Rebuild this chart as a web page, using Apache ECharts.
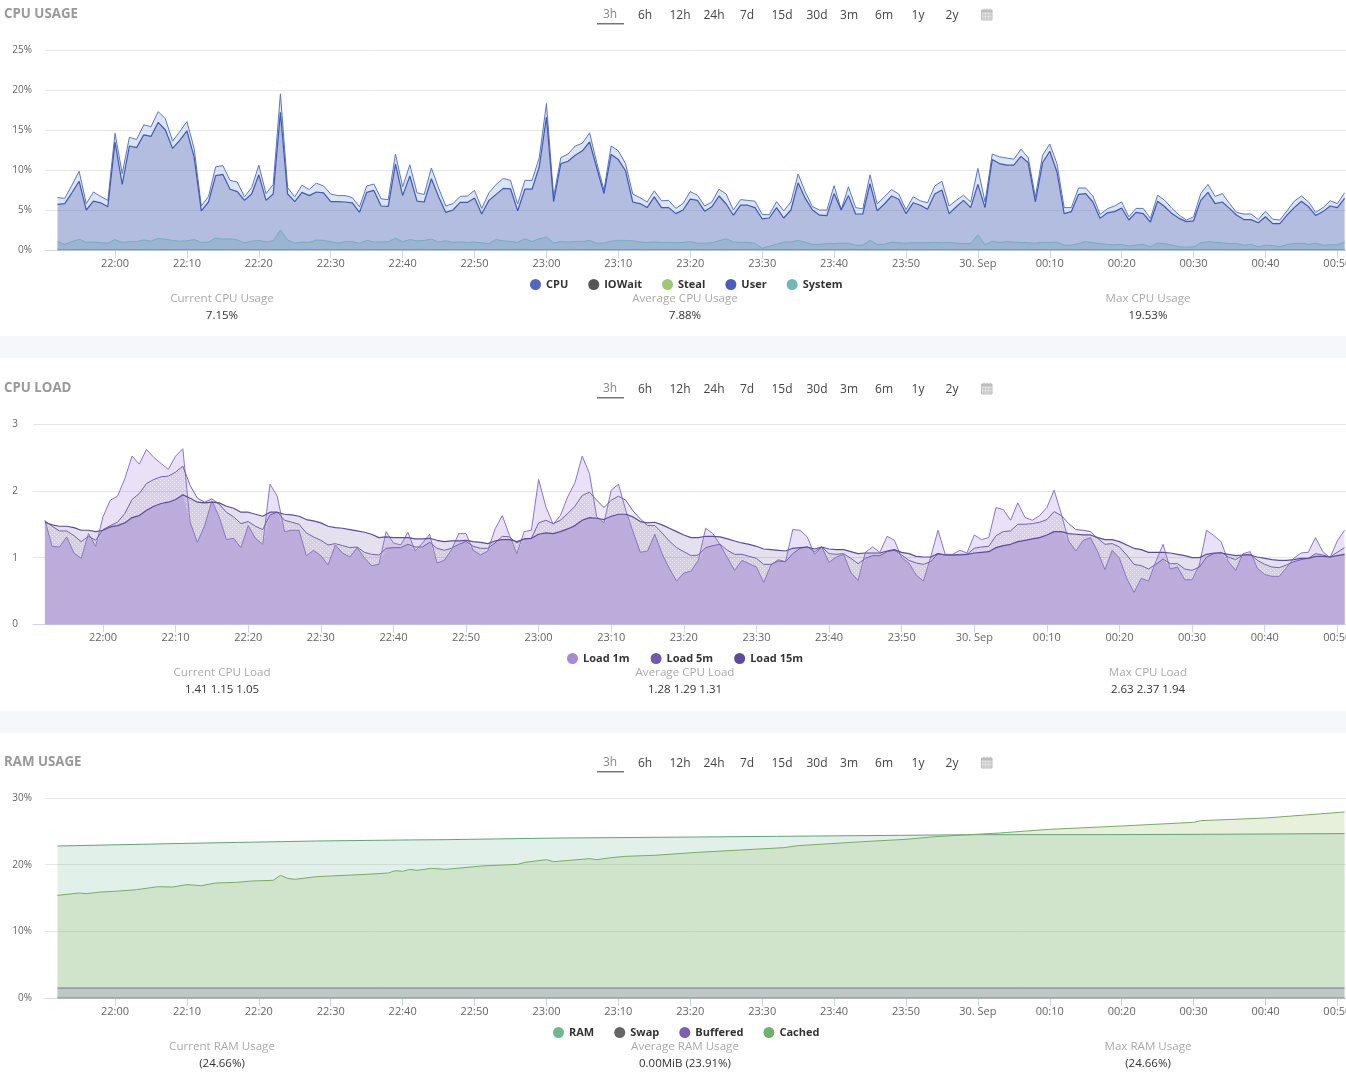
<!DOCTYPE html>
<html>
<head>
<meta charset="utf-8">
<title>Server metrics</title>
<script src="https://cdn.jsdelivr.net/npm/echarts@6/dist/echarts.min.js"></script>
<style>
  html, body { margin: 0; padding: 0; background: #fff; overflow: hidden; }
  #main { width: 1346px; height: 1080px; }
</style>
</head>
<body>
<div id="main"></div>
<script>
// One value per minute, starting at 21:52 on 29 Sep.
const cpuTotal = [
  6.56,6.45,8.1,9.85,5.8,7.25,6.7,6.2,14.6,9.55,
  14.1,13.8,15.65,15.4,17.3,16.4,13.6,14.8,16.05,12.7,
  5.5,6.7,10.4,10.55,8.7,8.5,6.65,7.8,10.6,7.05,
  8.2,19.53,7.8,6.65,8.1,7.55,8.35,8.0,7.0,6.8,
  6.8,6.55,5.4,8.0,8.25,6.4,6.3,12.0,7.9,10.65,
  7.15,6.95,10.25,7.75,5.5,5.8,6.7,6.75,7.45,5.2,
  7.15,8.2,8.95,8.7,5.75,8.7,8.7,11.55,18.3,6.65,
  11.55,12.0,13.0,13.35,14.65,10.9,7.5,13.0,12.4,10.8,
  7.0,6.55,6.0,7.4,6.15,6.2,5.2,5.8,7.3,6.85,
  5.5,6.0,7.6,7.0,5.0,6.3,6.2,6.1,4.45,4.4,
  6.05,4.9,6.0,9.5,7.25,5.4,5.0,5.0,8.05,5.05,
  7.9,5.3,5.15,9.4,5.75,6.65,7.55,7.0,5.05,6.65,
  6.15,5.9,8.0,8.6,5.5,6.2,6.85,6.0,10.2,6.0,
  12.0,11.65,11.5,11.35,12.6,11.55,6.65,11.85,13.25,10.8,
  5.3,5.3,7.75,7.75,6.75,4.45,5.15,5.5,6.0,4.15,
  5.2,5.2,3.95,6.85,6.2,5.2,4.35,3.75,4.15,7.05,
  8.2,6.7,7.05,5.8,4.7,4.5,4.5,3.8,4.85,3.85,
  3.75,4.9,6.1,6.75,6.0,4.7,5.3,6.15,5.8,7.15
];
const cpuUser = [
  5.7,5.8,7.15,8.6,5.0,6.1,5.9,5.4,13.5,8.2,
  13.0,12.8,14.4,14.2,15.95,15.0,12.7,13.7,14.9,11.6,
  4.9,6.0,9.3,9.45,7.6,7.3,6.2,7.0,9.4,6.2,
  7.0,17.2,7.0,6.05,7.2,6.8,7.25,7.15,6.05,6.05,
  6.0,5.9,4.7,7.2,7.45,5.5,5.45,10.75,6.8,9.25,
  6.1,6.0,8.9,6.65,4.7,5.0,5.95,5.95,6.5,4.5,
  6.2,6.95,7.7,7.65,4.9,7.6,7.6,10.4,16.6,6.05,
  10.8,11.1,11.85,12.4,13.5,10.25,7.05,11.95,11.3,9.9,
  6.0,5.8,5.3,6.65,5.3,5.3,4.55,5.0,6.35,6.2,
  4.85,5.4,6.75,5.75,4.35,5.6,5.6,5.3,3.9,4.0,
  5.3,4.0,5.0,8.4,6.45,5.0,4.35,4.3,7.05,5.0,
  6.8,4.5,4.5,8.3,4.9,5.75,6.75,6.35,4.55,5.9,
  5.6,5.1,7.0,7.5,4.55,5.4,6.2,5.3,8.2,5.3,
  11.3,10.8,10.6,10.6,11.7,10.9,6.0,10.9,12.35,9.75,
  4.55,4.8,6.95,7.05,6.0,3.95,4.65,4.8,5.25,3.75,
  4.7,4.55,3.5,6.1,5.4,4.55,3.95,3.55,3.65,6.2,
  7.2,5.8,6.0,5.2,4.35,3.8,3.8,3.4,4.15,3.3,
  3.3,4.35,5.3,6.1,5.4,4.3,4.8,5.5,5.3,6.45
];
const cpuSystem = [
  1.05,.7,1.05,1.35,.95,1.0,.9,.85,1.3,.95,
  1.05,1.05,1.25,1.1,1.45,1.35,1.2,1.1,1.15,1.3,
  .95,1.0,1.5,1.35,1.4,1.25,.9,1.1,1.2,1.0,
  1.15,2.5,1.25,.85,1.0,.95,1.25,1.2,1.05,.85,
  1.05,1.05,.85,1.2,1.0,1.0,1.05,1.45,1.05,1.3,
  1.15,1.2,1.35,1.0,1.15,.95,1.0,.95,1.0,.9,
  .8,1.3,1.15,1.05,.95,1.4,1.05,1.4,1.6,.9,
  1.05,1.0,1.05,1.05,1.2,.85,.85,1.1,1.2,1.2,
  1.15,1.0,.95,1.0,.95,.95,.9,.95,1.05,.85,
  .85,.9,1.15,1.4,1.0,.95,.95,.85,.2,.5,
  .7,1.0,1.0,1.2,1.0,.7,.7,.8,.8,.85,
  .85,.6,.6,1.2,.7,.7,1.0,.9,.85,.9,
  .9,.9,.95,.9,.95,.85,.8,.8,1.9,.65,
  1.1,.95,1.05,1.0,.95,.9,.85,.95,.95,1.0,
  .6,.6,.8,1.05,.9,.8,.7,.65,.7,.5,
  .6,.7,.4,.85,.8,.6,.4,.35,.4,.9,
  1.05,.95,.9,.8,.8,.6,.7,.4,.6,.55,
  .4,.7,.8,.85,.7,.85,.6,.65,.65,.95
];
const load1m = [
  1.56,1.17,1.16,1.31,1.07,.99,1.36,1.17,1.61,1.86,
  1.92,2.18,2.52,2.40,2.62,2.50,2.41,2.32,2.52,2.63,
  1.53,1.23,1.48,1.85,1.61,1.27,1.29,1.15,1.48,1.29,
  1.20,2.10,1.92,1.39,1.41,1.41,1.03,1.11,1.03,.89,
  1.19,1.07,1.01,1.15,1.0,.88,.90,1.39,1.22,1.19,
  1.38,1.10,1.22,1.35,.92,.96,1.12,1.36,1.36,1.11,
  1.04,1.10,1.43,1.63,1.33,1.06,1.39,1.41,2.17,1.76,
  1.50,1.63,1.91,2.12,2.52,2.26,1.61,1.52,2.01,2.10,
  1.71,1.39,1.08,1.10,1.35,1.06,.84,.65,.77,.80,
  .96,1.44,1.36,1.19,1.00,.81,.96,.91,.86,.63,
  .89,.97,.94,1.42,1.41,1.31,1.05,1.16,.93,1.01,
  1.05,.78,.66,1.08,1.16,1.08,1.32,1.26,1.0,.92,
  .74,.65,1.01,1.41,1.05,1.05,1.11,1.07,1.34,1.27,
  1.30,1.75,1.72,1.56,1.82,1.60,1.56,1.63,1.75,2.01,
  1.65,1.25,1.10,1.26,1.30,1.09,.82,1.11,.99,.69,
  .48,.69,.65,.94,1.20,.83,.86,.67,.67,.89,
  1.41,1.33,1.24,.94,.81,1.06,1.09,.84,.75,.72,
  .72,.85,.99,1.07,1.08,1.30,1.09,1.00,1.25,1.41
];
const load5m = [
  1.55,1.47,1.40,1.40,1.33,1.24,1.32,1.26,1.42,1.48,
  1.53,1.66,1.87,1.96,2.11,2.17,2.21,2.22,2.28,2.37,
  2.08,1.89,1.83,1.88,1.80,1.68,1.61,1.51,1.54,1.47,
  1.42,1.64,1.68,1.56,1.53,1.50,1.37,1.31,1.26,1.19,
  1.21,1.18,1.15,1.16,1.08,1.05,1.04,1.14,1.15,1.15,
  1.20,1.16,1.16,1.23,1.14,1.11,1.14,1.20,1.24,1.17,
  1.14,1.14,1.22,1.32,1.31,1.22,1.28,1.29,1.52,1.56,
  1.51,1.56,1.66,1.77,1.93,1.98,1.86,1.75,1.86,1.92,
  1.86,1.70,1.58,1.48,1.48,1.37,1.25,1.15,1.09,1.03,
  1.04,1.15,1.18,1.20,1.11,1.05,1.05,1.02,.99,.90,
  .90,.95,.94,1.06,1.14,1.16,1.09,1.16,1.06,1.05,
  1.06,.99,.91,.99,1.03,1.03,1.09,1.11,1.04,.96,
  .92,.90,.94,1.06,1.04,1.04,1.05,1.05,1.14,1.16,
  1.17,1.33,1.39,1.40,1.50,1.50,1.51,1.53,1.57,1.69,
  1.63,1.51,1.42,1.41,1.39,1.29,1.20,1.21,1.16,1.04,
  .90,.88,.83,.90,.98,.91,.91,.83,.81,.86,
  1.01,1.06,1.08,1.01,.97,1.04,1.05,.96,.90,.86,
  .85,.89,.94,.97,.99,1.06,1.04,1.01,1.08,1.15
];
const load15m = [
  1.53,1.49,1.47,1.47,1.45,1.41,1.41,1.39,1.41,1.46,
  1.48,1.52,1.60,1.63,1.71,1.77,1.81,1.83,1.87,1.94,
  1.89,1.83,1.82,1.83,1.82,1.77,1.74,1.68,1.68,1.65,
  1.62,1.68,1.68,1.65,1.64,1.62,1.57,1.55,1.52,1.47,
  1.45,1.44,1.42,1.40,1.38,1.35,1.30,1.31,1.30,1.30,
  1.30,1.28,1.28,1.29,1.26,1.24,1.25,1.25,1.26,1.24,
  1.23,1.21,1.25,1.27,1.27,1.24,1.28,1.29,1.35,1.37,
  1.36,1.39,1.43,1.48,1.56,1.60,1.59,1.57,1.62,1.65,
  1.65,1.61,1.54,1.52,1.53,1.49,1.44,1.39,1.34,1.30,
  1.30,1.32,1.32,1.31,1.28,1.25,1.22,1.20,1.17,1.13,
  1.12,1.11,1.10,1.14,1.15,1.16,1.13,1.16,1.13,1.12,
  1.12,1.09,1.06,1.07,1.07,1.07,1.10,1.12,1.08,1.06,
  1.02,1.01,1.01,1.06,1.04,1.04,1.04,1.05,1.07,1.08,
  1.09,1.15,1.18,1.20,1.24,1.26,1.28,1.30,1.34,1.39,
  1.39,1.36,1.35,1.34,1.34,1.30,1.27,1.27,1.24,1.19,
  1.14,1.12,1.08,1.08,1.08,1.07,1.05,1.03,1.00,1.00,
  1.05,1.07,1.07,1.05,1.03,1.04,1.04,1.01,.99,.97,
  .96,.96,.97,.99,.99,1.02,1.02,1.01,1.03,1.05
];

// Slow-moving series are kept as minute offset + value pairs.
const ramMinutes = [0, 18, 36, 48, 54, 70, 89, 100, 117, 128, 145, 159, 179];
const ramValues = [22.8, 23.2, 23.55, 23.7, 23.75, 24.0, 24.15, 24.25, 24.4, 24.5, 24.5, 24.55, 24.66];
const cachedMinutes = [0,3,4,6,8,11,14,16,18,20,22,25,27,30,31,32,33,36,40,43,46,47,48,49,50,52,54,
  59,64,65,68,69,74,75,77,79,83,89,95,101,103,112,118,122,131,138,148,158,159,168,179];
const cachedValues = [15.4,15.75,15.65,15.9,16.0,16.25,16.7,16.65,17.0,16.85,17.25,17.35,17.55,17.65,18.4,17.95,17.8,18.2,18.4,18.55,18.75,19.1,19.0,19.3,19.15,19.45,19.3,
  19.8,20.05,20.35,20.75,20.45,20.9,20.75,21.05,21.25,21.4,21.85,22.2,22.55,22.85,23.45,23.8,24.2,24.75,25.3,25.8,26.35,26.6,27.0,27.9];
const bufferedMinutes = [0, 179];
const bufferedValues = [1.5, 1.5];
const swapMinutes = [0, 179];
const swapValues = [0, 0];
const iowaitMinutes = [0, 179];
const iowaitValues = [0.03, 0.03];
const stealMinutes = [0, 179];
const stealValues = [0, 0];

// Minutes after 22:00 and the text shown at each tick.
const tickOffsets = [0, 10, 20, 30, 40, 50, 60, 70, 80, 90, 100, 110, 120, 130, 140, 150, 160, 170];
const tickLabels = ['22:00', '22:10', '22:20', '22:30', '22:40', '22:50', '23:00', '23:10', '23:20',
  '23:30', '23:40', '23:50', '30. Sep', '00:10', '00:20', '00:30', '00:40', '00:50'];

const rangeTabs = ['3h', '6h', '12h', '24h', '7d', '15d', '30d', '3m', '6m', '1y', '2y'];
const sectionTitles = ['CPU USAGE', 'CPU LOAD', 'RAM USAGE'];
const statLabels = [
  ['Current CPU Usage', 'Average CPU Usage', 'Max CPU Usage'],
  ['Current CPU Load', 'Average CPU Load', 'Max CPU Load'],
  ['Current RAM Usage', 'Average RAM Usage', 'Max RAM Usage']
];
const statValues = [
  ['7.15%', '7.88%', '19.53%'],
  ['1.41 1.15 1.05', '1.28 1.29 1.31', '2.63 2.37 1.94'],
  ['(24.66%)', '0.00MiB (23.91%)', '(24.66%)']
];

const FIRST_SAMPLE = -8; // 21:52 expressed in minutes after 22:00
const FONT = '"Open Sans", "Noto Sans", sans-serif';

const perMinute = values => values.map((v, i) => [FIRST_SAMPLE + i, v]);
const sampled = (minutes, values) => minutes.map((m, i) => [FIRST_SAMPLE + m, values[i]]);

function xAxisFor(gridIndex, min, max) {
  return {
    type: 'value', gridIndex, min, max,
    splitLine: { show: false },
    axisLine: { show: true, onZero: false, lineStyle: { color: '#ccd6eb', width: 1 } },
    axisTick: { show: true, length: 8, customValues: tickOffsets, lineStyle: { color: '#ccd6eb' } },
    axisLabel: {
      customValues: tickOffsets, hideOverlap: false, margin: 8,
      color: '#666', fontSize: 11, fontFamily: FONT,
      formatter: value => tickLabels[tickOffsets.indexOf(value)]
    }
  };
}

function yAxisFor(gridIndex, max, interval, suffix, margin) {
  return {
    type: 'value', gridIndex, min: 0, max, interval,
    axisLine: { show: false }, axisTick: { show: false },
    splitLine: { show: true, lineStyle: { color: '#e6e6e6', width: 1 } },
    axisLabel: { color: '#666', fontSize: 10, fontFamily: FONT, margin, padding: [4, 0, 0, 0], formatter: '{value}' + suffix }
  };
}

function areaSeries(name, gridIndex, data, dot, line, width, fill, z) {
  return {
    name, type: 'line', data, xAxisIndex: gridIndex, yAxisIndex: gridIndex,
    showSymbol: false, symbol: 'none', animation: false, z: z || 2, smooth: false,
    itemStyle: { color: dot },
    lineStyle: { color: line, width },
    areaStyle: fill ? { color: fill, opacity: 1 } : undefined
  };
}

// Fine dotted fill used by the 5-minute load area.
function dottedFill() {
  const c = document.createElement('canvas');
  c.width = 4; c.height = 4;
  const g = c.getContext('2d');
  g.fillStyle = 'rgba(150,125,205,0.18)';
  g.fillRect(0, 0, 4, 4);
  g.fillStyle = 'rgba(255,255,255,0.55)';
  g.fillRect(0, 0, 1, 1);
  g.fillRect(2, 2, 1, 1);
  return { image: c, repeat: 'repeat' };
}

const lowestLoad = load1m.map((v, i) => Math.min(v, load5m[i], load15m[i]));

const series = [
  // CPU usage
  areaSeries('CPU', 0, perMinute(cpuTotal), '#4f68c0', '#5a78c4', 1, 'rgba(123,160,216,0.27)'),
  areaSeries('IOWait', 0, sampled(iowaitMinutes, iowaitValues), '#555555', '#666666', 1, 'rgba(90,90,90,0.25)'),
  areaSeries('Steal', 0, sampled(stealMinutes, stealValues), '#9fc874', '#9fc874', 1, null),
  areaSeries('User', 0, perMinute(cpuUser), '#4a5cbe', '#4258b4', 1.2, 'rgba(83,97,175,0.30)'),
  areaSeries('System', 0, perMinute(cpuSystem), '#71b8b8', '#6fb0bc', 1, 'rgba(106,160,190,0.30)'),
  // CPU load: layered fills, a solid floor under all three, then the outlines on top
  areaSeries('Load 1m', 1, perMinute(load1m), '#a48ad8', '#a48ad8', 0, 'rgba(160,120,225,0.22)', 2),
  areaSeries('Load 15m', 1, perMinute(load15m), '#5d4b98', '#5d4b98', 0, 'rgba(110,90,160,0.19)', 2),
  areaSeries('Load 5m', 1, perMinute(load5m), '#6e5bb0', '#6e5bb0', 0, dottedFill(), 3),
  areaSeries('Lowest load', 1, perMinute(lowestLoad), '#b9a9da', '#b9a9da', 0, 'rgba(186,171,219,0.95)', 4),
  areaSeries('Load 1m', 1, perMinute(load1m), '#a48ad8', '#8a76c9', 1, null, 5),
  areaSeries('Load 5m', 1, perMinute(load5m), '#6e5bb0', '#7460b5', 1, null, 5),
  areaSeries('Load 15m', 1, perMinute(load15m), '#5d4b98', '#5e4b9e', 1.2, null, 5),
  // RAM usage
  areaSeries('RAM', 2, sampled(ramMinutes, ramValues), '#6fb98f', '#5fa37f', 1, 'rgba(110,180,150,0.20)'),
  areaSeries('Cached', 2, sampled(cachedMinutes, cachedValues), '#6fb36f', '#78ad5f', 1, 'rgba(150,190,100,0.23)'),
  areaSeries('Buffered', 2, sampled(bufferedMinutes, bufferedValues), '#7b5fb5', '#7b6ea8', 1, 'rgba(128,116,171,0.25)'),
  areaSeries('Swap', 2, sampled(swapMinutes, swapValues), '#666666', '#999999', 1.5, null)
];

function legendFor(names, left, top, gap) {
  return {
    data: names, left, top, orient: 'horizontal', icon: 'circle',
    itemWidth: 11, itemHeight: 11, itemGap: gap, padding: 0, selectedMode: false,
    textStyle: { color: '#333', fontSize: 11, fontWeight: 700, fontFamily: FONT }
  };
}

// Section furniture: titles, range selector, summary figures and dividers.
function text(str, x, y, font, fill, align) {
  return { type: 'text', x, y, silent: true, z: 20,
    style: { text: str, font, fill, align: align || 'center', verticalAlign: 'middle' } };
}

const tabCentres = [610, 645, 680, 714, 747, 782, 817, 849, 884, 918, 952];
const statCentres = [222, 685, 1148];
const graphics = [
  { type: 'rect', shape: { x: 0, y: 336, width: 1346, height: 22 }, style: { fill: '#f5f7fb' }, silent: true },
  { type: 'rect', shape: { x: 0, y: 711, width: 1346, height: 22 }, style: { fill: '#f5f7fb' }, silent: true }
];
[0, 374, 748].forEach((dy, s) => {
  graphics.push(text(sectionTitles[s], 4, 14 + dy, '700 13.3px ' + FONT, '#999', 'left'));
  rangeTabs.forEach((t, i) => {
    const y = 16 + dy - (i === 0 ? 1 : 0);
    graphics.push(text(t, tabCentres[i], y, '12px ' + FONT, i === 0 ? '#888' : '#444'));
  });
  graphics.push({ type: 'rect', shape: { x: 597, y: 23 + dy, width: 27, height: 1.5 }, style: { fill: '#777' }, silent: true, z: 20 });
  // calendar glyph
  graphics.push({ type: 'rect', shape: { x: 981.5, y: 10 + dy, width: 10.5, height: 10 }, style: { fill: '#ececec', stroke: '#bbb', lineWidth: 1 }, silent: true, z: 20 });
  graphics.push({ type: 'rect', shape: { x: 981.5, y: 10 + dy, width: 10.5, height: 2.5 }, style: { fill: '#bbb' }, silent: true, z: 20 });
  [984, 987, 990].forEach(x => {
    graphics.push({ type: 'line', shape: { x1: x, y1: 8.5 + dy, x2: x, y2: 20 + dy }, style: { stroke: '#c4c4c4', lineWidth: 1 }, silent: true, z: 20 });
  });
  [15, 18].forEach(y => {
    graphics.push({ type: 'line', shape: { x1: 982, y1: y + dy, x2: 992, y2: y + dy }, style: { stroke: '#c4c4c4', lineWidth: 1 }, silent: true, z: 20 });
  });
  statCentres.forEach((x, i) => {
    graphics.push(text(statLabels[s][i], x, 299 + dy, '11.6px ' + FONT, '#aaa'));
    graphics.push(text(statValues[s][i], x, 316 + dy, '11.5px ' + FONT, '#333'));
  });
});

const option = {
  backgroundColor: '#fff',
  animation: false,
  grid: [
    { left: 45, top: 50, width: 1301, height: 200, outerBoundsMode: 'none' },
    { left: 33, top: 424, width: 1313, height: 200.5, outerBoundsMode: 'none' },
    { left: 45, top: 798, width: 1301, height: 200, outerBoundsMode: 'none' }
  ],
  xAxis: [xAxisFor(0, -9.74, 171.2), xAxisFor(1, -9.64, 171.2), xAxisFor(2, -9.74, 171.2)],
  yAxis: [
    yAxisFor(0, 25, 5, '%', 13),
    yAxisFor(1, 3, 1, '', 15),
    yAxisFor(2, 30, 10, '%', 13)
  ],
  legend: [
    legendFor(['CPU', 'IOWait', 'Steal', 'User', 'System'], 530, 279, 20),
    legendFor(['Load 1m', 'Load 5m', 'Load 15m'], 567, 653, 21),
    legendFor(['RAM', 'Swap', 'Buffered', 'Cached'], 553, 1027, 20)
  ],
  series,
  graphic: { elements: graphics }
};

const chart = echarts.init(document.getElementById('main'));
chart.setOption(option);
</script>
</body>
</html>
